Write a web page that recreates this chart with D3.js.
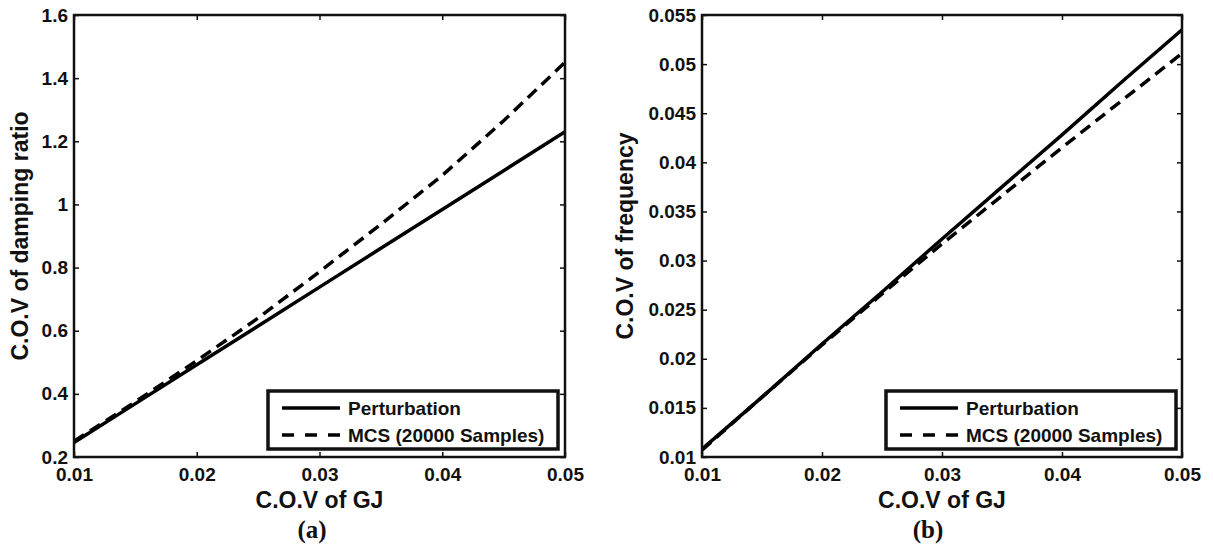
<!DOCTYPE html>
<html>
<head>
<meta charset="utf-8">
<script src="https://cdn.jsdelivr.net/npm/d3@7"></script>
<style>
  body { margin: 0; background: #fff; }
  svg text { font-family: "Liberation Sans", Arial, Helvetica, sans-serif; font-weight: bold; fill: #111; }
</style>
</head>
<body>
<svg width="1213" height="552"></svg>
<script>
// dane wykresu
const covGJ = [0.01, 0.015, 0.02, 0.025, 0.03, 0.035, 0.04, 0.045, 0.05];
const dampPerturbation = [0.246, 0.369, 0.492, 0.615, 0.738, 0.861, 0.984, 1.107, 1.23];
const dampMCS = [0.25, 0.375, 0.505, 0.64, 0.787, 0.937, 1.092, 1.265, 1.45];
const freqPerturbation = [0.0108, 0.0161, 0.0215, 0.0268, 0.0322, 0.0375, 0.0428, 0.0482, 0.0535];
const freqMCS = [0.0107, 0.0161, 0.0214, 0.0266, 0.0317, 0.0366, 0.0415, 0.0463, 0.0511];

const xTicks = [0.01, 0.02, 0.03, 0.04, 0.05];
const dampTicks = [0.2, 0.4, 0.6, 0.8, 1, 1.2, 1.4, 1.6];
const freqTicks = [0.01, 0.015, 0.02, 0.025, 0.03, 0.035, 0.04, 0.045, 0.05, 0.055];
const legendLabels = ["Perturbation", "MCS (20000 Samples)"];

const svg = d3.select("svg");

function drawPanel(p) {
  const g = svg.append("g");
  const x = d3.scaleLinear().domain([0.01, 0.05]).range([p.left, p.right]);
  const y = d3.scaleLinear().domain(p.yDomain).range([457, 15]);

  // osie (tiki do środka, jak w MATLABie)
  const xAxis = g.append("g").attr("transform", "translate(0,457)")
    .call(d3.axisBottom(x).tickValues(xTicks).tickSize(-5).tickPadding(11).tickFormat(d3.format("")));
  g.append("g").attr("transform", "translate(0,15)")
    .call(d3.axisTop(x).tickValues(xTicks).tickSize(-5).tickFormat(""));
  const yAxis = g.append("g").attr("transform", `translate(${p.left},0)`)
    .call(d3.axisLeft(y).tickValues(p.yTicks).tickSize(-5).tickPadding(6).tickFormat(d3.format("")));
  g.append("g").attr("transform", `translate(${p.right},0)`)
    .call(d3.axisRight(y).tickValues(p.yTicks).tickSize(-5).tickFormat(""));

  g.selectAll(".domain").remove();
  g.selectAll(".tick line").attr("stroke", "#111").attr("stroke-width", 1.5);
  g.selectAll(".tick text").style("font-size", "19px");
  xAxis.selectAll(".tick text").attr("dy", "0.71em");

  // linie danych
  const line = (vals) => d3.line().x((d, i) => x(covGJ[i])).y((d) => y(d))(vals);
  g.append("path").attr("d", line(p.pert)).attr("fill", "none")
    .attr("stroke", "#000").attr("stroke-width", 3.5);
  g.append("path").attr("d", line(p.mcs)).attr("fill", "none")
    .attr("stroke", "#000").attr("stroke-width", 3.5).attr("stroke-dasharray", "12,7");

  // ramka
  g.append("rect").attr("x", p.left).attr("y", 15)
    .attr("width", p.right - p.left).attr("height", 442)
    .attr("fill", "none").attr("stroke", "#111").attr("stroke-width", 2.5);

  // opisy osi
  g.append("text").attr("x", (p.left + p.right) / 2).attr("y", 508)
    .attr("text-anchor", "middle").style("font-size", "23px").text("C.O.V of GJ");
  g.append("text").attr("transform", `translate(${p.yLabelX},236) rotate(-90)`)
    .attr("text-anchor", "middle").style("font-size", "23px").text(p.yLabel);
  g.append("text").attr("x", p.captionX).attr("y", 538)
    .attr("text-anchor", "middle")
    .style("font-family", "'Liberation Serif', 'Times New Roman', serif")
    .style("font-size", "25px").text(p.caption);

  // legenda
  const lg = g.append("g");
  lg.append("rect").attr("x", p.legX).attr("y", 391).attr("width", 290).attr("height", 58)
    .attr("fill", "#fff").attr("stroke", "#111").attr("stroke-width", 3.5);
  legendLabels.forEach((lab, i) => {
    const cy = 408 + i * 27;
    lg.append("line").attr("x1", p.legX + 14).attr("x2", p.legX + 72)
      .attr("y1", cy).attr("y2", cy).attr("stroke", "#000").attr("stroke-width", 3.5)
      .attr("stroke-dasharray", i === 1 ? "12,11" : null);
    lg.append("text").attr("x", p.legX + 80).attr("y", cy).attr("dy", "0.35em")
      .style("font-size", "19px").text(lab);
  });
}

drawPanel({
  left: 74, right: 565, yDomain: [0.2, 1.6], yTicks: dampTicks,
  pert: dampPerturbation, mcs: dampMCS,
  yLabel: "C.O.V of damping ratio", yLabelX: 28, caption: "(a)", captionX: 312, legX: 268
});
drawPanel({
  left: 702, right: 1182, yDomain: [0.01, 0.055], yTicks: freqTicks,
  pert: freqPerturbation, mcs: freqMCS,
  yLabel: "C.O.V of frequency", yLabelX: 633, caption: "(b)", captionX: 928, legX: 886
});
</script>
</body>
</html>
